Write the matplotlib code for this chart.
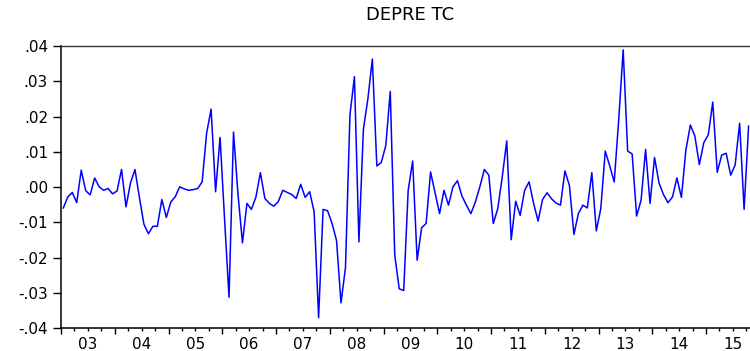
import numpy as np
import matplotlib
matplotlib.use("Agg")
import matplotlib.pyplot as plt
from matplotlib.ticker import FixedLocator, FixedFormatter, FuncFormatter

# monthly depreciation rate of the exchange rate, 2003M01 onwards
start_year = 2003
depre_tc = [
    -0.0059, -0.0028, -0.0015, -0.0044, 0.0048, -0.0010, -0.0022, 0.0026, 0.0001, -0.0009, -0.0004, -0.0019,
    -0.0011, 0.0050, -0.0056, 0.0012, 0.0050, -0.0030, -0.0105, -0.0132, -0.0111, -0.0111, -0.0035, -0.0086,
    -0.0042, -0.0027, 0.0001, -0.0005, -0.0009, -0.0007, -0.0004, 0.0015, 0.0153, 0.0221, -0.0013, 0.0141,
    -0.0090, -0.0312, 0.0156, -0.0020, -0.0158, -0.0046, -0.0063, -0.0028, 0.0041, -0.0032, -0.0046, -0.0054,
    -0.0041, -0.0009, -0.0015, -0.0021, -0.0032, 0.0008, -0.0029, -0.0013, -0.0070, -0.0370, -0.0063, -0.0067,
    -0.0103, -0.0151, -0.0328, -0.0228, 0.0205, 0.0313, -0.0155, 0.0164, 0.0250, 0.0363, 0.0060, 0.0070,
    0.0118, 0.0271, -0.0193, -0.0288, -0.0293, -0.0009, 0.0074, -0.0207, -0.0115, -0.0103, 0.0043, -0.0016,
    -0.0075, -0.0009, -0.0051, 0.0001, 0.0018, -0.0025, -0.0051, -0.0075, -0.0042, 0.0001, 0.0050, 0.0034,
    -0.0103, -0.0061, 0.0029, 0.0131, -0.0149, -0.0040, -0.0080, -0.0009, 0.0015, -0.0046, -0.0096, -0.0035,
    -0.0016, -0.0033, -0.0045, -0.0051, 0.0046, 0.0004, -0.0134, -0.0075, -0.0051, -0.0059, 0.0041, -0.0124,
    -0.0061, 0.0102, 0.0060, 0.0015, 0.0190, 0.0389, 0.0102, 0.0094, -0.0082, -0.0037, 0.0107, -0.0046,
    0.0084, 0.0012, -0.0021, -0.0044, -0.0028, 0.0026, -0.0029, 0.0105, 0.0176, 0.0145, 0.0064, 0.0126,
    0.0148, 0.0241, 0.0042, 0.0091, 0.0096, 0.0034, 0.0063, 0.0181, -0.0063, 0.0173,
]
year_labels = ["03", "04", "05", "06", "07", "08", "09", "10", "11", "12", "13", "14", "15"]
y_ticks = [-0.04, -0.03, -0.02, -0.01, 0.00, 0.01, 0.02, 0.03, 0.04]

n = len(depre_tc)
t = start_year + (np.arange(n) + 0.5) / 12.0   # mid-month positions
years = start_year + np.arange(len(year_labels))

fig = plt.figure(figsize=(7.5, 3.51), dpi=100)
ax = fig.add_axes([0.0807, 0.0647, 0.9193, 0.8043])

ax.plot(t, depre_tc, color="#0000ff", lw=1.1)

ax.set_ylim(-0.04, 0.04)
x0 = start_year - 0.01
ax.set_xlim(x0, x0 + 689.5 / 53.75)

# y axis: .04 style labels
ax.set_yticks(y_ticks)
ax.yaxis.set_major_formatter(FuncFormatter(lambda v, p: ("%.2f" % v).replace("0.", ".", 1)))
ax.tick_params(axis="y", direction="out", length=6, width=1, pad=3, labelsize=11)

# x axis: long ticks at year starts, short ticks at quarters, label in mid-year
ax.xaxis.set_major_locator(FixedLocator(years))
ax.xaxis.set_major_formatter(FixedFormatter([""] * len(years)))
q_pos, q_lab = [], []
for y, lab in zip(years, year_labels):
    for q, ql in ((0.25, ""), (0.5, lab), (0.75, "")):
        q_pos.append(y + q)
        q_lab.append(ql)
ax.xaxis.set_minor_locator(FixedLocator(q_pos))
ax.xaxis.set_minor_formatter(FixedFormatter(q_lab))
ax.tick_params(axis="x", which="major", direction="out", length=4.5, width=1)
ax.tick_params(axis="x", which="minor", direction="out", length=2.5, width=1, pad=3.5, labelsize=11)

for s in ("left", "bottom"):
    ax.spines[s].set_linewidth(1.1)
    ax.spines[s].set_color("black")
ax.spines["top"].set_linewidth(1.0)
ax.spines["top"].set_color("#333333")
ax.spines["right"].set_visible(False)

fig.text(0.547, 1 - 15 / 351, "DEPRE TC", ha="center", va="center", fontsize=13)

fig.savefig("out.png", dpi=100)
